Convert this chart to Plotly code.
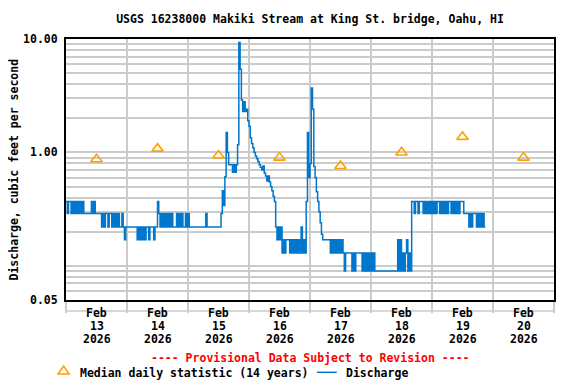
import numpy as np
import pandas as pd
import plotly.graph_objects as go

TITLE = "USGS 16238000 Makiki Stream at King St. bridge, Oahu, HI"
Y_TITLE = "Discharge, cubic feet per second"
PROVISIONAL = "---- Provisional Data Subject to Revision ----"

# discharge (ft3/s) every 30 min, one list per day
DAY_STARTS = ["2026-02-13", "2026-02-14", "2026-02-15", "2026-02-16",
              "2026-02-17", "2026-02-18", "2026-02-19"]
FEB13 = [.37, .29, .37, .37, .29, .37, .29, .37, .29, .37, .29, .37, .29, .37, .29, .29,
         .29, .29, .29, .29, .37, .29, .37, .29, .29, .29, .29, .29, .22, .29, .22, .29,
         .29, .22, .29, .29, .22, .29, .22, .29, .22, .29, .22, .22, .29, .22, .17, .22]
FEB14 = [.22, .22, .22, .22, .22, .22, .22, .22, .17, .22, .17, .22, .17, .22, .17, .22,
         .22, .17, .22, .22, .22, .17, .22, .22, .37, .29, .22, .29, .22, .29, .22, .29,
         .22, .29, .22, .29, .22, .22, .22, .29, .22, .29, .22, .29, .22, .22, .29, .22]
FEB15 = [.29, .22, .22, .22, .22, .22, .22, .22, .22, .22, .22, .22, .22, .22, .29, .22,
         .22, .22, .22, .22, .22, .22, .22, .22, .22, .22, .29, .46, .34, .61, 1.5, 1.0,
         .78, .78, .78, .67, .78, .67, .78, 1.17, 9.3, 5.4, 2.9, 2.3, 2.8, 2.3, 2.4, 1.9]
FEB16 = [1.7, 1.35, 1.2, 1.1, 1.0, .93, .88, .83, .78, .74, .70, .76, .66, .62, .56, .62,
         .55, .50, .46, .41, .37, .22, .17, .22, .17, .22, .13, .17, .13, .17, .17, .17,
         .13, .17, .13, .17, .13, .17, .13, .17, .13, .22, .13, .17, .13, .37, 1.5, .6]
FEB17 = [.8, 3.7, 2.4, .75, .6, .45, .37, .3, .24, .19, .17, .17, .17, .17, .17, .17,
         .13, .17, .13, .17, .13, .17, .13, .17, .13, .17, .13, .09, .13, .13, .13, .13,
         .13, .09, .13, .09, .13, .13, .13, .13, .13, .09, .13, .09, .13, .09, .13, .09]
FEB18 = [.13, .09, .13, .09, .09, .09, .09, .09, .09, .09, .09, .09, .09, .09, .09, .09,
         .09, .09, .09, .09, .09, .17, .09, .17, .09, .13, .09, .13, .17, .09, .13, .09,
         .37, .37, .29, .37, .37, .29, .37, .37, .37, .29, .37, .29, .37, .29, .37, .29]
FEB19 = [.37, .29, .37, .29, .37, .37, .29, .37, .29, .37, .29, .37, .29, .37, .37, .29,
         .37, .29, .37, .29, .37, .29, .37, .37, .37, .29, .29, .29, .29, .22, .29, .22,
         .29, .29, .29, .22, .29, .22, .29, .22, .29, .22, .22]

# median daily statistic (14 years), plotted at noon
MEDIAN_DAYS = ["2026-02-13", "2026-02-14", "2026-02-15", "2026-02-16",
               "2026-02-17", "2026-02-18", "2026-02-19", "2026-02-20"]
MEDIAN_VALUES = [0.87, 1.08, 0.94, 0.90, 0.76, 1.00, 1.37, 0.90]

Y_GRID = [0.05, 0.06, 0.07, 0.08, 0.09, 0.1, 0.2, 0.3, 0.4, 0.5, 0.6, 0.7, 0.8, 0.9,
          1, 2, 3, 4, 5, 6, 7, 8, 9, 10]
Y_LABELS = {0.05: "0.05", 1: "1.00", 10: "10.00"}

X_START = "2026-02-13"
X_END = "2026-02-21"

FONT = "DejaVu Sans Mono"
BLUE = "#0077CC"
ORANGE = "#FFA000"
GRID = "#CBCBCB"

# page body keeps its default 8px margin, so the figure is 8px smaller each way
W, H = 568, 376

# ---- build series
times = []
values = []
for start, vals in zip(DAY_STARTS, [FEB13, FEB14, FEB15, FEB16, FEB17, FEB18, FEB19]):
    times.extend(pd.date_range(start, periods=len(vals), freq="30min"))
    values.extend(vals)

median_x = [pd.Timestamp(d) + pd.Timedelta(hours=12) for d in MEDIAN_DAYS]
midnights = pd.date_range(X_START, X_END, freq="D")

fig = go.Figure()
fig.add_trace(go.Scatter(
    x=times, y=values, mode="lines", line=dict(color=BLUE, width=1.5, shape="hv"),
    showlegend=False, name="Discharge",
))
fig.add_trace(go.Scatter(
    x=median_x, y=MEDIAN_VALUES, mode="markers",
    marker=dict(symbol="triangle-up-open", size=10, color=ORANGE, line=dict(width=1.6, color=ORANGE)),
    showlegend=False, name="Median daily statistic (14 years)",
))

fig.update_layout(
    width=W, height=H,
    margin=dict(l=58, r=22, t=31, b=84),
    paper_bgcolor="white", plot_bgcolor="white",
    font=dict(family=FONT, size=11.5, color="black", weight="bold"),
    title=dict(text=TITLE, x=0.5, xref="paper", y=1 - 11 / H, yref="container",
               xanchor="center", yanchor="middle",
               font=dict(family=FONT, size=11.5, color="black", weight="bold")),
    xaxis=dict(
        type="date", range=[X_START, X_END],
        tickmode="array", tickvals=list(midnights), showticklabels=False,
        ticks="outside", ticklen=11, tickwidth=1.5, tickcolor=GRID,
        showgrid=True, gridcolor=GRID, gridwidth=1.5,
        showline=True, mirror=True, linecolor="black", linewidth=2, zeroline=False,
    ),
    yaxis=dict(
        type="log", range=[np.log10(Y_GRID[0]), np.log10(Y_GRID[-1])],
        tickmode="array", tickvals=Y_GRID,
        ticktext=[Y_LABELS.get(v, "") for v in Y_GRID],
        ticks="", ticklabelstandoff=4, showgrid=True, gridcolor=GRID, gridwidth=1.5,
        showline=True, mirror=True, linecolor="black", linewidth=2, zeroline=False,
    ),
)

# grey strip under the axis that the tick marks hang down to
fig.add_shape(type="line", xref="paper", yref="paper", x0=0, x1=1, y0=-0.042, y1=-0.042,
              line=dict(color=GRID, width=1.5))

# three-row date labels at noon of each day
for d in MEDIAN_DAYS:
    ts = pd.Timestamp(d)
    noon = ts + pd.Timedelta(hours=12)
    for row, txt in zip([-0.0505, -0.1015, -0.1501], [ts.strftime("%b"), str(ts.day), str(ts.year)]):
        fig.add_annotation(x=noon, y=row, xref="x", yref="paper", text=txt, showarrow=False,
                           xanchor="center", yanchor="middle")

fig.add_annotation(x=-0.1066, y=0.5, xref="paper", yref="paper", text=Y_TITLE, textangle=-90,
                   showarrow=False, xanchor="center", yanchor="middle")

fig.add_annotation(x=0.5, y=-0.2228, xref="paper", yref="paper", text=PROVISIONAL,
                   showarrow=False, font=dict(color="#FF0000"), xanchor="center", yanchor="middle")

# hand-made legend row
fig.add_shape(type="path", xref="paper", yref="paper", xsizemode="pixel", ysizemode="pixel",
              xanchor=-0.0049, yanchor=-0.2737, path="M-5.5,-2.6 L5.5,-2.6 L0,5.3 Z",
              line=dict(color=ORANGE, width=1.6))
fig.add_annotation(x=0.0246, y=-0.2787, xref="paper", yref="paper",
                   text="Median daily statistic (14 years)", showarrow=False,
                   xanchor="left", yanchor="middle")
fig.add_shape(type="line", xref="paper", yref="paper", x0=0.5143, x1=0.5549, y0=-0.277, y1=-0.277,
              line=dict(color=BLUE, width=1.5))
fig.add_annotation(x=0.5693, y=-0.2787, xref="paper", yref="paper", text="Discharge",
                   showarrow=False, xanchor="left", yanchor="middle")

fig.write_html("out.html")
